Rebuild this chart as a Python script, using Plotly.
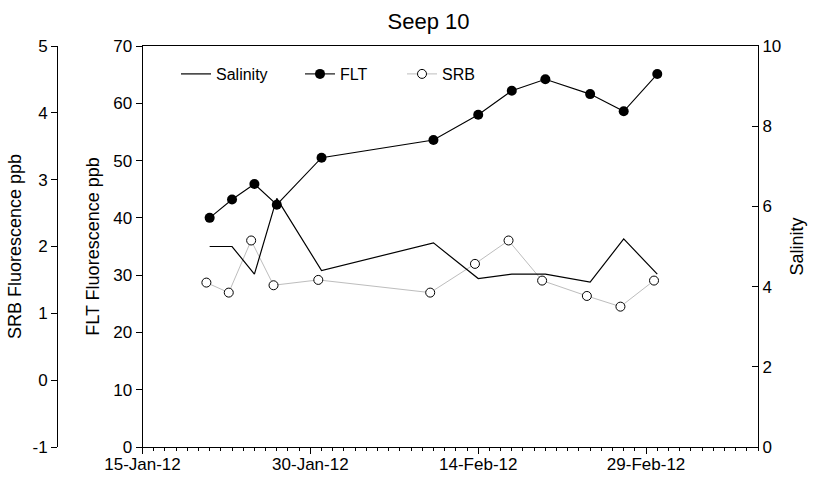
import plotly.graph_objects as go

# Sampling dates (FLT and salinity share the same days)
dates = ["2012-01-21", "2012-01-23", "2012-01-25", "2012-01-27", "2012-01-31",
         "2012-02-10", "2012-02-14", "2012-02-17", "2012-02-20", "2012-02-24",
         "2012-02-27", "2012-03-01"]
# SRB readings were logged late on the previous day
srb_dates = ["2012-01-20 17:00", "2012-01-22 17:00", "2012-01-24 17:00", "2012-01-26 17:00",
             "2012-01-30 17:00", "2012-02-09 17:00", "2012-02-13 17:00", "2012-02-16 17:00",
             "2012-02-19 17:00", "2012-02-23 17:00", "2012-02-26 17:00", "2012-02-29 17:00"]

salinity = [5.0, 5.0, 4.31, 6.2, 4.40, 5.09, 4.20, 4.31, 4.31, 4.11, 5.19, 4.31]
flt = [40.0, 43.2, 45.9, 42.3, 50.5, 53.6, 58.0, 62.2, 64.2, 61.6, 58.6, 65.1]
srb = [1.46, 1.31, 2.09, 1.42, 1.50, 1.31, 1.74, 2.09, 1.49, 1.26, 1.10, 1.49]

# SRB axis ticks, written with a plain hyphen for the negative value
srb_ticks = [-1, 0, 1, 2, 3, 4, 5]
srb_tick_text = ["-1", "0", "1", "2", "3", "4", "5"]

FONT = "Arial, Liberation Sans, sans-serif"
W, H = 813, 483
X0, X1 = 142.5, 758.0

fig = go.Figure()

fig.add_trace(go.Scatter(
    x=dates, y=flt, name="FLT", mode="lines+markers", yaxis="y",
    line=dict(color="black", width=1.1),
    marker=dict(symbol="circle", size=10, color="black"),
    legend="legend2",
))
fig.add_trace(go.Scatter(
    x=srb_dates, y=srb, name="SRB", mode="lines+markers", yaxis="y2",
    line=dict(color="#bdbdbd", width=1),
    marker=dict(symbol="circle", size=9, color="white",
                line=dict(color="black", width=1)),
    legend="legend3",
))
fig.add_trace(go.Scatter(
    x=dates, y=salinity, name="Salinity", mode="lines", yaxis="y3",
    line=dict(color="black", width=1.2),
    legend="legend",
))

axis_common = dict(
    showline=True, linecolor="black", linewidth=1,
    showgrid=False, zeroline=False, automargin=False,
    tickfont=dict(family=FONT, size=17, color="black"),
    tickcolor="black", ticklen=6, tickwidth=1,
)

leg_common = dict(
    orientation="h", xanchor="left", yanchor="middle",
    font=dict(family=FONT, size=16, color="black"),
    bgcolor="rgba(0,0,0,0)", borderwidth=0,
)

fig.update_layout(
    width=W, height=H, autosize=False,
    margin=dict(l=0, r=0, t=46, b=36, autoexpand=False),
    paper_bgcolor="white", plot_bgcolor="white",
    title=dict(text="Seep 10", x=428.6 / W, xanchor="center", xref="paper",
               y=1 - 21 / H, yanchor="middle", yref="container",
               font=dict(family=FONT, size=22, color="black")),
    xaxis=dict(
        axis_common,
        domain=[X0 / W, X1 / W],
        type="date",
        range=["2012-01-15", "2012-03-10"],
        tick0="2012-01-15", dtick=15 * 86400000,
        tickformat="%-d-%b-%y", ticks="outside", ticklabelstandoff=-4,
        mirror=True,
        minor=dict(dtick=86400000, tick0="2012-01-15", ticks="outside",
                   ticklen=3, tickcolor="black", tickwidth=1),
    ),
    yaxis=dict(
        axis_common,
        range=[0, 70], dtick=10, ticks="outside",
        title=dict(text="FLT Fluorescence ppb", standoff=8,
                   font=dict(family=FONT, size=18, color="black")),
    ),
    yaxis2=dict(
        axis_common,
        range=[-1, 5], tickvals=srb_ticks, ticktext=srb_tick_text, ticks="outside",
        overlaying="y", side="left", anchor="free", position=57 / W,
        title=dict(text="SRB Fluorescence ppb", standoff=5,
                   font=dict(family=FONT, size=18, color="black")),
    ),
    yaxis3=dict(
        axis_common,
        range=[0, 10], dtick=2, ticks="inside",
        overlaying="y", side="right", anchor="x",
        title=dict(text="Salinity", standoff=10,
                   font=dict(family=FONT, size=18, color="black")),
    ),
    legend=dict(leg_common, x=176 / W, y=(447 - 74) / 401),
    legend2=dict(leg_common, x=300 / W, y=(447 - 74) / 401),
    legend3=dict(leg_common, x=402 / W, y=(447 - 74) / 401),
    showlegend=True,
)

fig.write_html("out.html")
